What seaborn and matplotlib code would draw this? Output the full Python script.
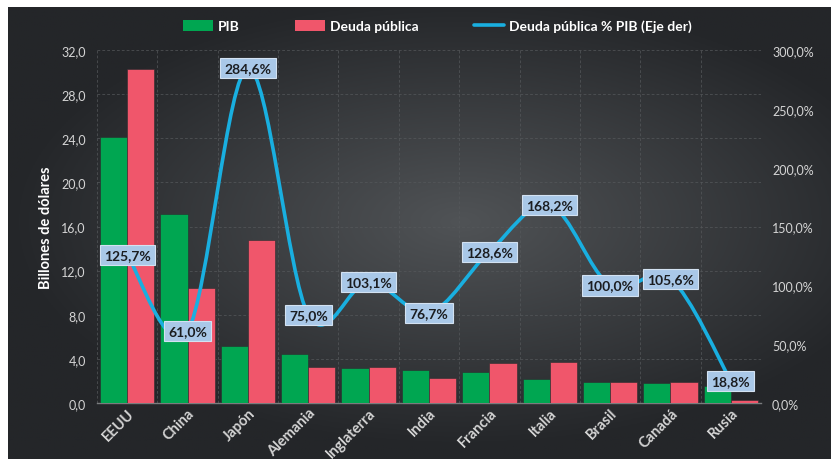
import numpy as np
import pandas as pd
import matplotlib
matplotlib.use("Agg")
import matplotlib.pyplot as plt
import seaborn as sns
from matplotlib.path import Path
from matplotlib.patches import PathPatch, Patch
from matplotlib.lines import Line2D
from matplotlib.ticker import FuncFormatter

paises = ["EEUU", "China", "Japón", "Alemania", "Inglaterra", "India",
          "Francia", "Italia", "Brasil", "Canadá", "Rusia"]
pib = [24.1, 17.1, 5.2, 4.4, 3.2, 3.0, 2.8, 2.2, 1.9, 1.8, 1.5]
deuda = [30.3, 10.4, 14.8, 3.3, 3.3, 2.3, 3.6, 3.7, 1.9, 1.9, 0.3]
deuda_pct = [125.7, 61.0, 284.6, 75.0, 103.1, 76.7, 128.6, 168.2, 100.0, 105.6, 18.8]

VERDE = "#00a651"
ROSA = "#f0566b"
AZUL = "#19afe0"
TEXTO = "#d4d4d4"
GRID = "#55585b"

sns.set_theme(style="dark")
plt.rcParams["font.family"] = ["Lato", "DejaVu Sans"]

df = pd.DataFrame({
    "pais": paises * 2,
    "valor": pib + deuda,
    "serie": ["PIB"] * len(paises) + ["Deuda pública"] * len(paises),
})

fig = plt.figure(figsize=(8.34, 4.6), dpi=100, facecolor="white")

# dark radial-gradient background panel
bg = fig.add_axes([8 / 834, 0, (831 - 8) / 834, (460 - 8) / 460], zorder=-10)
gx, gy = np.meshgrid(np.linspace(-1, 1, 400), np.linspace(-1, 1, 220))
r = np.sqrt(((gx - 0.1) / 1.1) ** 2 + ((gy + 0.05) / 1.0) ** 2)
r = np.clip(r, 0, 1)
c_in = np.array([0x50, 0x53, 0x56]) / 255
c_out = np.array([0x24, 0x26, 0x29]) / 255
img = c_in[None, None, :] * (1 - r[..., None]) + c_out[None, None, :] * r[..., None]
bg.imshow(img, aspect="auto", extent=[0, 1, 0, 1])
bg.set_axis_off()

ax = fig.add_axes([97 / 834, 56 / 460, (761 - 97) / 834, (404 - 51) / 460])
ax.set_facecolor("none")
sns.barplot(data=df, x="pais", y="valor", hue="serie",
            palette={"PIB": VERDE, "Deuda pública": ROSA},
            width=0.9, saturation=1, ax=ax, legend=False,
            edgecolor="#2a2c2e", linewidth=0.4, zorder=3)
ax.set_ylim(0, 32)
ax.set_xlim(-0.5, len(paises) - 0.5)
ax.set_yticks(np.arange(0, 33, 4))
ax.yaxis.set_major_formatter(FuncFormatter(lambda v, p: f"{v:.1f}".replace(".", ",")))
ax.set_xlabel("")
ax.set_ylabel("Billones de dólares", color="white", fontsize=10.5,
              fontweight="bold", labelpad=6)
ax.tick_params(axis="y", colors=TEXTO, labelsize=9, length=0, pad=8)
ax.tick_params(axis="x", colors=TEXTO, labelsize=10.5, length=0, pad=2)
for lbl in ax.get_xticklabels():
    lbl.set_rotation(45)
    lbl.set_ha("right")
    lbl.set_rotation_mode("anchor")
    lbl.set_fontweight("bold")
for s in ["top", "right", "left"]:
    ax.spines[s].set_visible(False)
ax.spines["bottom"].set_color("#7a7c7e")
ax.spines["bottom"].set_linewidth(1.0)
ax.grid(False)
for yv in np.arange(4, 33, 4):
    ax.axhline(yv, color=GRID, lw=0.5, ls=(0, (4, 3)), zorder=1)
for xv in np.arange(-0.5, len(paises), 1.0):
    ax.axvline(xv, color=GRID, lw=0.5, ls=(0, (4, 3)), zorder=1)

ax2 = ax.twinx()
ax2.set_ylim(0, 300)
ax2.set_yticks(np.arange(0, 301, 50))
ax2.yaxis.set_major_formatter(FuncFormatter(lambda v, p: f"{v:.1f}%".replace(".", ",")))
ax2.tick_params(axis="y", colors=TEXTO, labelsize=9, length=0, pad=8)
ax2.grid(False)
for s in ax2.spines.values():
    s.set_visible(False)

# smoothed line (Catmull-Rom -> cubic Bezier), like Excel's smooth line
xs = np.arange(len(paises), dtype=float)
pts = np.column_stack([xs, deuda_pct])
verts = [tuple(pts[0])]
codes = [Path.MOVETO]
for i in range(len(pts) - 1):
    p0 = pts[i - 1] if i > 0 else pts[i]
    p1 = pts[i]
    p2 = pts[i + 1]
    p3 = pts[i + 2] if i + 2 < len(pts) else pts[i + 1]
    c1 = p1 + (p2 - p0) / 6
    c2 = p2 - (p3 - p1) / 6
    verts += [tuple(c1), tuple(c2), tuple(p2)]
    codes += [Path.CURVE4] * 3
ax2.add_patch(PathPatch(Path(verts, codes), fc="none", ec=AZUL, lw=2.6,
                        capstyle="round", zorder=4))

for x, v in zip(xs, deuda_pct):
    ax2.text(x, v, f"{v:.1f}%".replace(".", ","), ha="center", va="center",
             fontsize=10, fontweight="bold", color="#1b1d20", zorder=6,
             bbox=dict(boxstyle="square,pad=0.3", fc="#a9c8e8", ec="#d3e2f2", lw=0.8))

handles = [Patch(fc=VERDE, ec="none"), Patch(fc=ROSA, ec="none"),
           Line2D([0], [0], color=AZUL, lw=2.6)]
fig.legend(handles, ["PIB", "Deuda pública", "Deuda pública % PIB (Eje der)"],
           loc="center", bbox_to_anchor=(0.524, 0.941), ncol=3, frameon=False,
           labelcolor="white", handlelength=2.2, handleheight=0.9,
           columnspacing=4.0, handletextpad=0.3, prop={"weight": "bold", "size": 10})

fig.savefig("out.png", dpi=100, facecolor="white")
